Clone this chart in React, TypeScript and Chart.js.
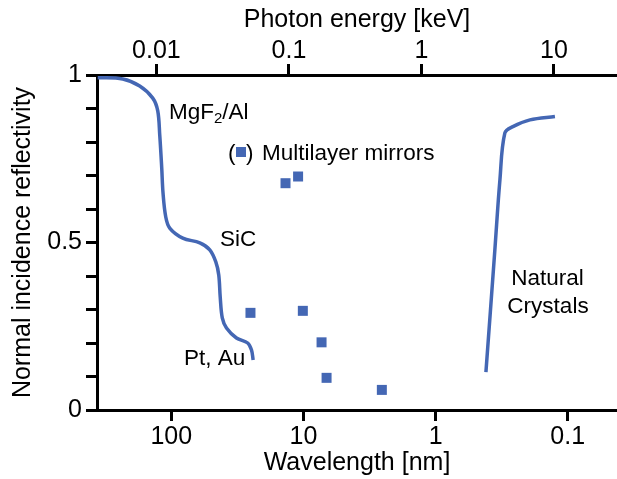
import React, { useEffect, useRef } from 'react';
import { Chart, registerables } from 'chart.js';

Chart.register(...registerables);

const BLUE = '#4467b4';
const FONT = '"Liberation Sans", Arial, Helvetica, sans-serif';

// Coated mirrors (MgF2/Al -> SiC -> Pt, Au): wavelength [nm] and reflectivity
const mirrorWavelength = [360, 232.8, 173.2, 138, 126.5, 122.2, 118.0, 115.4, 110.1, 102.7, 81.8, 60.8, 51.1, 46.0, 43.7, 42.6, 41.1, 38.2, 32.1, 26.4, 24.7, 24.0];
const mirrorReflectivity = [0.992, 0.988, 0.967, 0.931, 0.893, 0.821, 0.722, 0.648, 0.577, 0.543, 0.513, 0.499, 0.478, 0.442, 0.403, 0.337, 0.275, 0.245, 0.215, 0.2, 0.179, 0.149];

// Natural crystals
const crystalWavelength = [0.416, 0.356, 0.326, 0.299, 0.26, 0.193, 0.125];
const crystalReflectivity = [0.113, 0.478, 0.687, 0.827, 0.846, 0.866, 0.876];

// Multilayer mirrors
const multilayerWavelength = [25.15, 13.66, 10.97, 10.1, 7.29, 6.68, 2.55];
const multilayerReflectivity = [0.29, 0.677, 0.697, 0.296, 0.202, 0.096, 0.06];

// Axes
const wavelengthMin = 0.0424;
const wavelengthMax = 364.5;
const wavelengthTicks = [100, 10, 1, 0.1];
const energyMin = 0.00356;
const energyMax = 29.9;
const energyTicks = [0.01, 0.1, 1, 10];
const reflectivityLabeled = [0, 0.5, 1];

const annotationPlugin = {
  id: 'annotations',
  afterDatasetsDraw(chart: any) {
    const ctx = chart.ctx as CanvasRenderingContext2D;
    const f = (s: number) => `${s}px ${FONT}`;
    ctx.save();
    ctx.fillStyle = '#000';
    ctx.textBaseline = 'alphabetic';
    ctx.textAlign = 'left';

    // MgF2/Al
    ctx.font = f(22.5);
    ctx.fillText('MgF', 169, 119);
    const w1 = ctx.measureText('MgF').width;
    ctx.font = f(15);
    ctx.fillText('2', 169 + w1, 123);
    const w2 = ctx.measureText('2').width;
    ctx.font = f(22.5);
    ctx.fillText('/Al', 169 + w1 + w2, 119);

    // (■) Multilayer mirrors
    ctx.fillText('(', 228, 160);
    ctx.fillText(')', 246, 160);
    ctx.fillText('Multilayer mirrors', 262, 160);
    ctx.fillStyle = BLUE;
    ctx.fillRect(236, 147, 10, 10);
    ctx.fillStyle = '#000';

    ctx.fillText('SiC', 220, 246);
    ctx.fillText('Pt, Au', 184, 365);

    ctx.textAlign = 'center';
    ctx.fillText('Natural', 547.5, 285);
    ctx.fillText('Crystals', 548, 313);
    ctx.restore();
  },
};

const axisCommon = (tickPadding: number) => ({
  grid: {
    drawOnChartArea: false,
    drawTicks: true,
    tickLength: 11,
    tickWidth: 3,
    tickColor: '#000',
    color: '#000',
    lineWidth: 3,
  },
  border: { display: true, color: '#000', width: 3 },
  ticks: {
    color: '#000',
    font: { size: 25, family: FONT },
    padding: tickPadding,
    autoSkip: false,
    maxRotation: 0,
    minRotation: 0,
  },
});

const zeroPad = (s: any) => {
  s.paddingLeft = 0;
  s.paddingRight = 0;
  s.paddingTop = 0;
  s.paddingBottom = 0;
};

export default function App() {
  const ref = useRef<HTMLCanvasElement | null>(null);

  useEffect(() => {
    if (!ref.current) return;
    Chart.defaults.font.family = FONT;
    const xc = axisCommon(1);
    const x2c = axisCommon(-2);
    const yc = axisCommon(4);
    const chart = new Chart(ref.current, {
      type: 'scatter',
      data: {
        datasets: [
          {
            label: 'MgF2/Al, SiC, Pt/Au',
            data: mirrorWavelength.map((x, i) => ({ x, y: mirrorReflectivity[i] })),
            showLine: true,
            borderColor: BLUE,
            borderWidth: 3.5,
            pointRadius: 0,
            tension: 0.35,
            xAxisID: 'x',
            yAxisID: 'y',
          },
          {
            label: 'Natural Crystals',
            data: crystalWavelength.map((x, i) => ({ x, y: crystalReflectivity[i] })),
            showLine: true,
            borderColor: BLUE,
            borderWidth: 3.5,
            pointRadius: 0,
            tension: 0.35,
            xAxisID: 'x',
            yAxisID: 'y',
          },
          {
            label: 'Multilayer mirrors',
            data: multilayerWavelength.map((x, i) => ({ x, y: multilayerReflectivity[i] })),
            showLine: false,
            pointStyle: 'rect',
            pointRadius: 7.07,
            backgroundColor: BLUE,
            borderWidth: 0,
            xAxisID: 'x',
            yAxisID: 'y',
          },
        ],
      },
      options: {
        responsive: false,
        animation: false,
        devicePixelRatio: 1,
        layout: { padding: 0, autoPadding: false },
        plugins: { legend: { display: false }, tooltip: { enabled: false } },
        scales: {
          x: {
            type: 'logarithmic',
            position: 'bottom',
            reverse: true,
            min: wavelengthMin,
            max: wavelengthMax,
            afterFit: (s: any) => { s.height = 69; zeroPad(s); },
            afterBuildTicks: (s: any) => { s.ticks = wavelengthTicks.map((v) => ({ value: v })); },
            ...xc,
            ticks: { ...xc.ticks, callback: (v: any) => String(v) },
            title: {
              display: true,
              text: 'Wavelength [nm]',
              color: '#000',
              font: { size: 25, family: FONT },
              padding: { top: 0, bottom: 1 },
            },
          },
          x2: {
            type: 'logarithmic',
            position: 'top',
            min: energyMin,
            max: energyMax,
            afterFit: (s: any) => { s.height = 75; zeroPad(s); },
            afterBuildTicks: (s: any) => { s.ticks = energyTicks.map((v) => ({ value: v })); },
            ...x2c,
            ticks: { ...x2c.ticks, callback: (v: any) => String(v) },
            title: {
              display: true,
              text: 'Photon energy [keV]',
              color: '#000',
              font: { size: 25, family: FONT },
              padding: { top: 5, bottom: 0 },
            },
          },
          y: {
            type: 'linear',
            position: 'left',
            min: 0,
            max: 1,
            afterFit: (s: any) => { s.width = 97; zeroPad(s); },
            ...yc,
            ticks: {
              ...yc.ticks,
              stepSize: 0.1,
              callback: (v: any) => {
                const n = Number(v);
                const hit = reflectivityLabeled.find((l) => Math.abs(l - n) < 1e-6);
                return hit === undefined ? '' : String(hit);
              },
            },
            title: {
              display: true,
              text: 'Normal incidence reflectivity',
              color: '#000',
              font: { size: 25, family: FONT },
              padding: { top: 8.5, bottom: 0 },
            },
          },
        },
      } as any,
      plugins: [annotationPlugin],
    });
    return () => chart.destroy();
  }, []);

  return (
    <div style={{ position: 'fixed', left: 0, top: 0, width: 617, height: 479, background: '#fff' }}>
      <canvas ref={ref} width={617} height={479} style={{ display: 'block', width: 617, height: 479 }} />
    </div>
  );
}
